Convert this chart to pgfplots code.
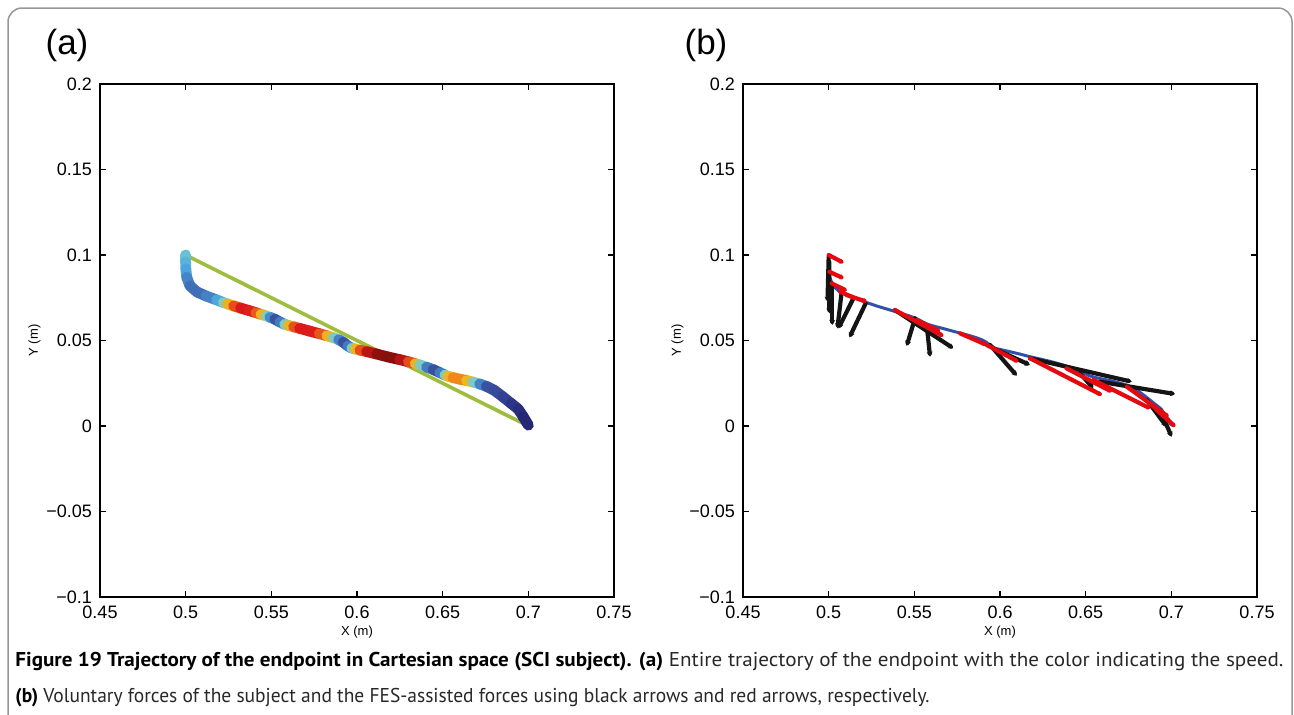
\documentclass[border=0pt]{standalone}
\usepackage{pgfplots}
\pgfplotsset{compat=1.18}
\usepackage{pgfplotstable}
\usepackage{fontspec}
\setmainfont{Liberation Sans}
\newfontfamily\capfont{PT Sans}
\usetikzlibrary{arrows.meta}
\definecolor{trajgreen}{RGB}{160,188,60}
\definecolor{trajblue}{RGB}{50,80,165}
\definecolor{fesred}{RGB}{228,10,15}
\definecolor{framegray}{RGB}{150,150,150}
\definecolor{captext}{RGB}{40,40,40}

\pgfplotstableread{
x y s
0.5000 0.1000 0.50
0.5000 0.0960 0.45
0.5001 0.0920 0.40
0.5006 0.0870 0.35
0.5025 0.0820 0.30
0.5066 0.0784 0.28
0.5120 0.0760 0.30
0.5180 0.0738 0.34
0.5220 0.0722 0.42
0.5245 0.0714 0.62
0.5280 0.0702 0.76
0.5320 0.0690 0.87
0.5370 0.0675 0.88
0.5410 0.0663 0.85
0.5440 0.0653 0.75
0.5470 0.0644 0.62
0.5492 0.0636 0.42
0.5520 0.0625 0.25
0.5550 0.0608 0.22
0.5578 0.0595 0.40
0.5600 0.0588 0.62
0.5630 0.0580 0.75
0.5665 0.0571 0.87
0.5720 0.0556 0.88
0.5780 0.0540 0.86
0.5824 0.0528 0.75
0.5863 0.0516 0.62
0.5893 0.0505 0.40
0.5920 0.0490 0.24
0.5947 0.0468 0.22
0.5970 0.0455 0.40
0.5990 0.0450 0.62
0.6017 0.0444 0.75
0.6056 0.0435 0.88
0.6115 0.0421 0.96
0.6180 0.0404 1.00
0.6250 0.0388 0.97
0.6300 0.0376 0.88
0.6340 0.0365 0.75
0.6367 0.0357 0.62
0.6406 0.0344 0.40
0.6445 0.0330 0.22
0.6484 0.0312 0.22
0.6513 0.0298 0.40
0.6530 0.0291 0.62
0.6560 0.0283 0.74
0.6600 0.0274 0.76
0.6640 0.0266 0.74
0.6677 0.0257 0.62
0.6716 0.0246 0.40
0.6755 0.0232 0.24
0.6800 0.0210 0.22
0.6850 0.0172 0.18
0.6900 0.0132 0.12
0.6940 0.0100 0.07
0.6970 0.0055 0.03
0.7000 0.0005 0.00
}\traj

\pgfplotstableread{
x y u v
0.5000 0.0990 -0.0007 -0.0263
0.5003 0.0960 0.0001 -0.0301
0.5021 0.0834 0.0000 -0.0243
0.5076 0.0786 -0.0025 -0.0215
0.5144 0.0746 -0.0087 -0.0175
0.5216 0.0717 -0.0095 -0.0199
0.5387 0.0678 0.0341 -0.0224
0.5504 0.0630 -0.0049 -0.0162
0.5572 0.0591 0.0020 -0.0186
0.5942 0.0474 0.0156 -0.0180
0.5961 0.0454 0.0214 -0.0097
0.6175 0.0396 0.0594 -0.0137
0.6467 0.0308 0.0078 -0.0088
0.6584 0.0259 0.0438 -0.0072
0.6934 0.0093 0.0068 -0.0156
0.6857 0.0152 0.0116 -0.0156
}\volforce

\pgfplotstableread{
x y u v
0.5000 0.1000 0.0086 -0.0045
0.5004 0.0902 0.0082 -0.0038
0.5018 0.0834 0.0087 -0.0043
0.5066 0.0786 0.0088 -0.0039
0.5105 0.0766 0.0117 -0.0039
0.5387 0.0678 0.0282 -0.0152
0.5514 0.0620 0.0136 -0.0068
0.5767 0.0542 0.0155 -0.0068
0.5922 0.0474 0.0185 -0.0098
0.6175 0.0396 0.0419 -0.0215
0.6388 0.0337 0.0264 -0.0136
0.6545 0.0269 0.0331 -0.0166
0.6740 0.0230 0.0243 -0.0176
0.6876 0.0133 0.0146 -0.0137
0.6915 0.0093 0.0078 -0.0068
}\fesforce

\pgfplotsset{
  panel/.style={
    width=257pt, height=256.5pt, scale only axis,
    xmin=0.45, xmax=0.75, ymin=-0.1, ymax=0.2,
    xtick={0.45,0.5,0.55,0.6,0.65,0.7,0.75},
    xticklabels={0.45,0.5,0.55,0.6,0.65,0.7,0.75},
    ytick={-0.1,-0.05,0,0.05,0.1,0.15,0.2},
    yticklabels={−0.1,−0.05,0,0.05,0.1,0.15,0.2},
    tick align=inside, major tick length=3pt,
    xtick pos=both, ytick pos=both,
    axis line style={line width=0.7pt},
    every tick/.style={black, line width=0.6pt},
    tick label style={font=\fontsize{9}{10}\selectfont},
    xticklabel style={yshift=-1pt},
    yticklabel style={xshift=-0.5pt},
    label style={font=\fontsize{6.5}{7}\selectfont},
    xlabel={X (m)}, ylabel={Y (m)},
    xlabel style={yshift=3pt},
    ylabel style={yshift=-4pt},
    clip=false,
  },
}

\begin{document}
\begin{tikzpicture}
\path[use as bounding box] (0,0) rectangle (647pt,-357pt);
\draw[framegray, line width=0.75pt, rounded corners=7pt] (4pt,-4pt) rectangle (646pt,-420pt);

\node[font=\fontsize{17.5}{20}\selectfont] at (33.5pt,-22.5pt) {(a)};
\node[font=\fontsize{17.5}{20}\selectfont] at (353pt,-22.5pt) {(b)};

\begin{axis}[panel, at={(50pt,-298.5pt)}, anchor=south west,
  colormap={speed}{rgb255(0)=(35,35,115) rgb255(2)=(60,85,165) rgb255(3)=(75,165,220) rgb255(4)=(115,200,210) rgb255(5)=(235,220,40) rgb255(6)=(240,135,25) rgb255(7)=(220,25,25) rgb255(8)=(125,15,10)},
  point meta min=0, point meta max=1]
\addplot[trajgreen, line width=1.8pt] coordinates {(0.5,0.1) (0.7,0.0)};
\addplot[mesh, line width=5.4pt, line cap=round, point meta=explicit] table[x=x, y=y, meta=s] {\traj};
\end{axis}

\begin{axis}[panel, at={(371.5pt,-298.5pt)}, anchor=south west]
\addplot[trajblue, line width=1.5pt, no marks] table[x=x, y=y] {\traj};
\addplot[black!92, line width=2.1pt, line cap=round, -{Stealth[length=2.5pt,width=3pt]},
  quiver={u=\thisrow{u}, v=\thisrow{v}}] table[x=x, y=y] {\volforce};
\addplot[fesred, line width=2.1pt, line cap=round, -{Stealth[length=1.8pt,width=2.6pt]},
  quiver={u=\thisrow{u}, v=\thisrow{v}}] table[x=x, y=y] {\fesforce};
\end{axis}

\node[anchor=base west, inner sep=0pt, text=captext] at (7.5pt,-333pt) {\resizebox{634pt}{\height}{\capfont\fontsize{10}{12}\selectfont\textbf{\color{black}Figure 19 Trajectory of the endpoint in Cartesian space (SCI subject). (a)} Entire trajectory of the endpoint with the color indicating the speed.}};
\node[anchor=base west, inner sep=0pt, text=captext] at (7.5pt,-351pt) {\resizebox{457pt}{\height}{\capfont\fontsize{10}{12}\selectfont\textbf{\color{black}(b)} Voluntary forces of the subject and the FES-assisted forces using black arrows and red arrows, respectively.}};
\end{tikzpicture}
\end{document}
